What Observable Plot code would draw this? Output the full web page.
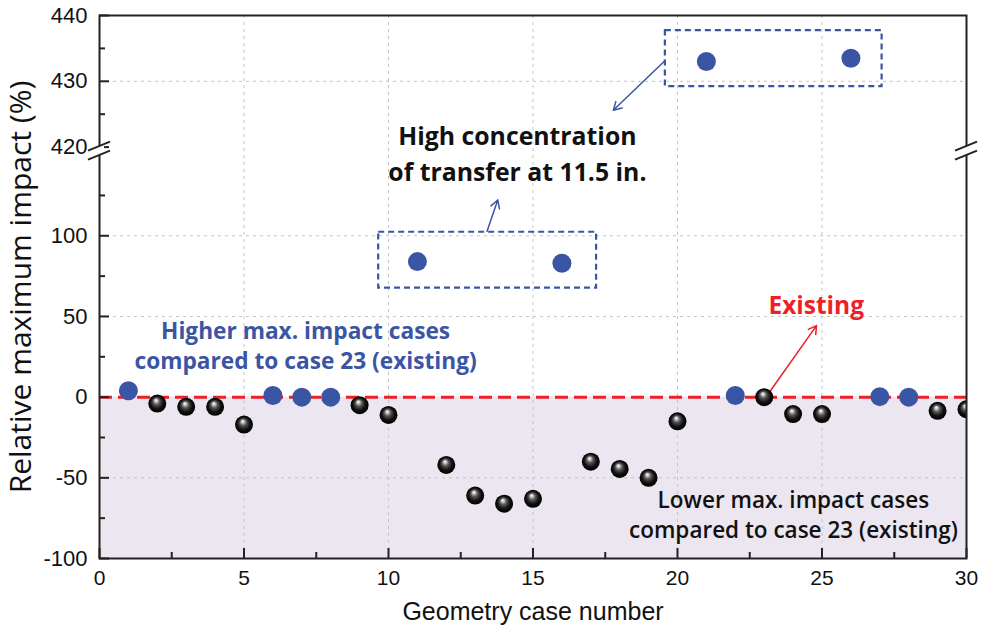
<!DOCTYPE html>
<html>
<head>
<meta charset="utf-8">
<script src="https://cdn.jsdelivr.net/npm/d3@7"></script>
<script src="https://cdn.jsdelivr.net/npm/@observablehq/plot@0.6"></script>
<style>
  html, body { margin: 0; padding: 0; background: #fff; }
  #chart svg { display: block; }
  #chart [aria-label="y-axis tick label"] text { font-family: "Liberation Sans", Arial, sans-serif; font-size: 22px; fill: #111; }
  #chart [aria-label="x-axis tick label"] text { font-family: "Liberation Sans", Arial, sans-serif; font-size: 21px; fill: #111; }
</style>
</head>
<body>
<div id="chart"></div>
<script>
// ---- data ----
const cases = [1, 2, 3, 4, 5, 6, 7, 8, 9, 10, 11, 12, 13, 14, 15, 16, 17, 18, 19, 20, 21, 22, 23, 24, 25, 26, 27, 28, 29, 30];
const impact = [4, -4, -6, -6, -17, 1, 0, 0, -5, -11, 84, -42, -61, -66, -63, 83, -40, -44.5, -50, -15, 433, 1, 0, -10.5, -10.5, 433.5, 0.3, 0, -8.5, -7.5];
const group = ["higher", "lower", "lower", "lower", "lower", "higher", "higher", "higher", "lower", "lower",
               "higher", "lower", "lower", "lower", "lower", "higher", "lower", "lower", "lower", "lower",
               "higher", "higher", "existing", "lower", "lower", "higher", "higher", "higher", "lower", "lower"];
const xTicks = [0, 5, 10, 15, 20, 25, 30];
const xMinorTicks = [2.5, 7.5, 12.5, 17.5, 22.5, 27.5];
const yTicksLower = [-100, -50, 0, 50, 100];
const yMinorLower = [-75, -25, 25, 75, 125];
const yTicksUpper = [420, 430, 440];
const yMinorUpper = [425, 435];
const xGrid = [5, 10, 15, 20, 25];
const yGrid = [-50, 50, 100, 430];

const rows = cases.map((c, i) => ({case: c, impact: impact[i], group: group[i]}));

// ---- layout / style ----
const W = 987, H = 631;
const mL = 99, mR = 21, mT = 15, mB = 73;
const plotW = W - mL - mR, plotH = H - mT - mB;
const BLUE = "#3b55a5", RED = "#ee1f26", AX = "#222";
const annFont = "'Open Sans', 'Noto Sans', sans-serif";

const plot = Plot.plot({
  width: W, height: H,
  marginLeft: mL, marginRight: mR, marginTop: mT, marginBottom: mB,
  x: {domain: [0, 30], axis: null},
  y: {type: "linear", domain: [-100, 150, 420, 440], range: [H - mB, 154.6, 146.6, mT], axis: null},
  style: {background: "#fff"},
  marks: [
    // shaded "lower" region
    Plot.rect([0], {x1: 0, x2: 30, y1: -100, y2: 0, fill: "#ece6f1"}),
    // grid
    Plot.ruleX(xGrid, {stroke: "#c4c4c4", strokeWidth: 1, strokeDasharray: "3,4"}),
    Plot.ruleY(yGrid, {stroke: "#c4c4c4", strokeWidth: 1, strokeDasharray: "3,4"}),
    // existing reference line
    Plot.ruleY([0], {stroke: RED, strokeWidth: 3, strokeDasharray: "13,6"}),
    // inward ticks
    Plot.tickY([...yTicksLower, ...yTicksUpper], {y: d => d, stroke: AX, strokeWidth: 2, insetRight: plotW - 10}),
    Plot.tickY([...yMinorLower, ...yMinorUpper], {y: d => d, stroke: AX, strokeWidth: 2, insetRight: plotW - 6}),
    Plot.tickX(xTicks, {x: d => d, stroke: AX, strokeWidth: 2, insetTop: plotH - 10}),
    Plot.tickX(xMinorTicks, {x: d => d, stroke: AX, strokeWidth: 2, insetTop: plotH - 6}),
    // dashed annotation boxes
    Plot.rect([0], {x1: 9.66, x2: 17.2, y1: 67.5, y2: 102.2, fill: "none", stroke: BLUE, strokeWidth: 2.2, strokeDasharray: "6,4"}),
    Plot.rect([0], {x1: 19.58, x2: 27.08, y1: 429.2, y2: 437.7, fill: "none", stroke: BLUE, strokeWidth: 2.2, strokeDasharray: "6,4"}),
    // arrows
    Plot.arrow([0], {x1: 13.41, y1: 102.8, x2: 13.78, y2: 122.2, stroke: BLUE, strokeWidth: 1.5, headLength: 9}),
    Plot.arrow([0], {x1: 19.58, y1: 433.2, x2: 17.78, y2: 425.6, stroke: BLUE, strokeWidth: 1.5, headLength: 9}),
    Plot.arrow([0], {x1: 23.1, y1: 1, x2: 24.81, y2: 44.3, stroke: RED, strokeWidth: 1.5, headLength: 9}),
    // points
    Plot.dot(rows.filter(d => d.group !== "higher"), {x: "case", y: "impact", r: 9, fill: "url(#sphere)", stroke: "none", clip: true}),
    Plot.dot(rows.filter(d => d.group === "higher"), {x: "case", y: "impact", r: 9.5, fill: BLUE, stroke: "none", clip: true}),
    // annotation texts
    Plot.text(["High concentration"], {x: 14.46, y: 421.5, text: d => d, fontFamily: annFont, fontWeight: 700, fontSize: 24.8, fill: "#111"}),
    Plot.text(["of transfer at 11.5 in."], {x: 14.46, y: 138.6, text: d => d, fontFamily: annFont, fontWeight: 700, fontSize: 24.8, fill: "#111"}),
    Plot.text(["Higher max. impact cases", "compared to case 23 (existing)"], {x: 7.13, y: [40.6, 22], text: d => d, fontFamily: annFont, fontWeight: 700, fontSize: 22.7, fill: BLUE}),
    Plot.text(["Lower max. impact cases", "compared to case 23 (existing)"], {x: 24.01, y: [-64, -82.6], text: d => d, fontFamily: annFont, fontWeight: 600, fontSize: 22.5, fill: "#111"}),
    Plot.text(["Existing"], {x: 24.8, y: 56.1, text: d => d, fontFamily: annFont, fontWeight: 700, fontSize: 24.5, fill: RED}),
    // axes labels
    Plot.axisY([...yTicksLower, ...yTicksUpper], {anchor: "left", tickSize: 0, tickPadding: 12, label: null, tickFormat: d => String(d)}),
    Plot.axisX(xTicks, {anchor: "bottom", tickSize: 0, tickPadding: 12, label: null, tickFormat: d => String(d)}),
    Plot.text(["Relative maximum impact (%)"], {frameAnchor: "left", dx: -78, rotate: -90, textAnchor: "middle", lineAnchor: "middle", text: d => d, fontFamily: annFont, fontSize: 30, fill: "#111"}),
    Plot.text(["Geometry case number"], {frameAnchor: "bottom", dy: 53, lineAnchor: "middle", textAnchor: "middle", text: d => d, fontFamily: "'Liberation Sans', Arial, sans-serif", fontSize: 25, fill: "#111"}),
    Plot.frame({stroke: AX, strokeWidth: 2})
  ]
});

// gradient for the shaded spheres
const svg = d3.select(plot);
svg.insert("defs", ":first-child").html(`
  <radialGradient id="sphere" cx="0.5" cy="0.5" r="0.5" fx="0.42" fy="0.3">
    <stop offset="0" stop-color="#ffffff"/>
    <stop offset="0.12" stop-color="#d8d8d8"/>
    <stop offset="0.38" stop-color="#555"/>
    <stop offset="0.7" stop-color="#111"/>
    <stop offset="1" stop-color="#000"/>
  </radialGradient>`);

// axis break marks, positioned with the plot's own scales
const xs = plot.scale("x"), ys = plot.scale("y");
const yc = (ys.apply(150) + ys.apply(420)) / 2;
const brk = svg.append("g").attr("aria-label", "axis breaks");
for (const xv of [0, 30]) {
  const px = xs.apply(xv);
  brk.append("polygon")
    .attr("points", `${px - 5},${yc - 2} ${px + 5},${yc - 6} ${px + 5},${yc + 2} ${px - 5},${yc + 6}`)
    .attr("fill", "#fff");
  for (const off of [-4.5, 4.5]) {
    brk.append("line")
      .attr("x1", px - 11).attr("y1", yc + off + 4.5)
      .attr("x2", px + 11).attr("y2", yc + off - 4.5)
      .attr("stroke", AX).attr("stroke-width", 2);
  }
}

document.getElementById("chart").appendChild(plot);
</script>
</body>
</html>
